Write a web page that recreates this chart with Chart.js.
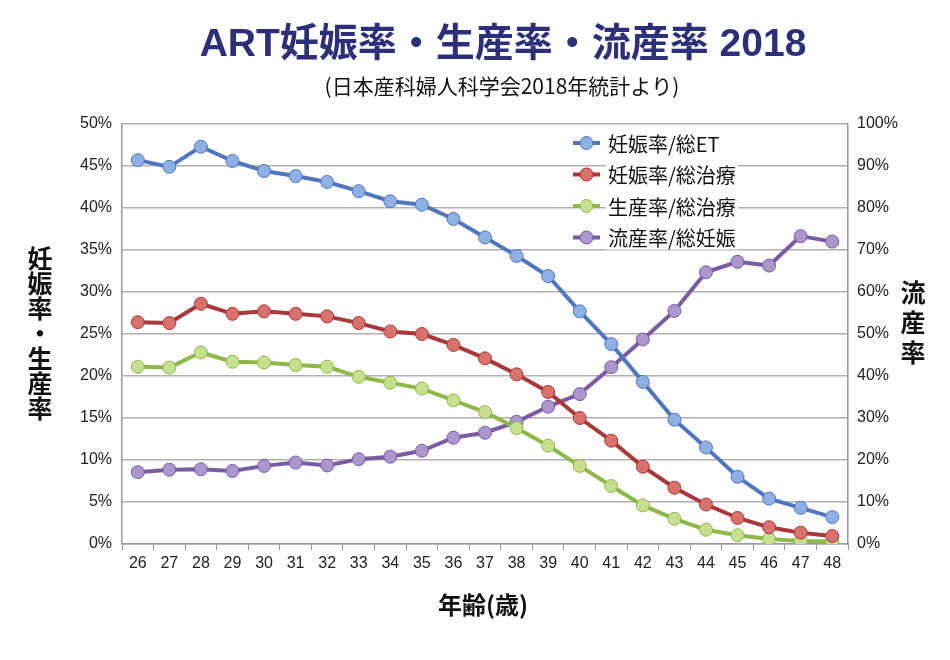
<!DOCTYPE html>
<html>
<head>
<meta charset="utf-8">
<script src="https://cdn.jsdelivr.net/npm/chart.js@4.4.0/dist/chart.umd.min.js"></script>
<style>
  html, body { margin: 0; padding: 0; background: #fff; }
  #wrap { width: 950px; height: 660px; position: relative; }
</style>
</head>
<body>
<div id="wrap"><canvas id="myChart"></canvas></div>
<script>
// データ (2018年 日本産科婦人科学会)
const ages = ['26','27','28','29','30','31','32','33','34','35','36','37','38','39','40','41','42','43','44','45','46','47','48'];
const pregPerET   = [45.7, 44.9, 47.3, 45.6, 44.4, 43.8, 43.1, 42.0, 40.8, 40.4, 38.7, 36.5, 34.3, 31.9, 27.7, 23.8, 19.3, 14.8, 11.5, 8.0, 5.4, 4.3, 3.2];
const pregPerCyc  = [26.4, 26.3, 28.6, 27.4, 27.7, 27.4, 27.1, 26.3, 25.3, 25.0, 23.7, 22.1, 20.2, 18.1, 15.0, 12.3, 9.2, 6.7, 4.7, 3.1, 2.0, 1.35, 0.95];
const birthPerCyc = [21.1, 21.0, 22.8, 21.7, 21.6, 21.3, 21.1, 19.9, 19.2, 18.5, 17.1, 15.7, 13.8, 11.7, 9.3, 6.9, 4.6, 3.0, 1.7, 1.05, 0.6, 0.35, 0.3];
const miscPerPreg = [17.1, 17.7, 17.8, 17.4, 18.6, 19.4, 18.7, 20.2, 20.8, 22.2, 25.3, 26.5, 29.1, 32.7, 35.7, 42.1, 48.7, 55.5, 64.7, 67.2, 66.3, 73.3, 72.0];
const seriesLabels = ['妊娠率/総ET', '妊娠率/総治療', '生産率/総治療', '流産率/総妊娠'];
const leftTicks = [0, 5, 10, 15, 20, 25, 30, 35, 40, 45, 50];
const rightTicks = [0, 10, 20, 30, 40, 50, 60, 70, 80, 90, 100];

const latin = '"Liberation Sans", "Noto Sans CJK JP", sans-serif';
const jp = '"Noto Sans CJK JP", "Liberation Sans", sans-serif';

function makeSet(label, data, line, fill, axis) {
    return {
        label: label,
        data: data,
        yAxisID: axis,
        borderColor: line,
        backgroundColor: fill,
        borderWidth: 4,
        pointRadius: 6.5,
        pointBackgroundColor: fill,
        pointBorderColor: line,
        pointBorderWidth: 1,
        tension: 0,
        fill: false
    };
}

// タイトル・軸タイトル・凡例を描く
const textPlugin = {
    id: 'texts',
    afterDraw(chart) {
        const ctx = chart.ctx;
        ctx.save();
        ctx.textBaseline = 'middle';
        ctx.textAlign = 'center';

        ctx.fillStyle = '#2d3079';
        ctx.font = 'bold 39px ' + latin;
        ctx.fillText('ART妊娠率・生産率・流産率 2018', 503, 45);

        ctx.fillStyle = '#111';
        ctx.font = '21px ' + jp;
        ctx.fillText('(日本産科婦人科学会2018年統計より)', 502, 86);

        ctx.font = 'bold 25px ' + jp;
        const left = '妊娠率・生産率';
        for (let i = 0; i < left.length; i++) {
            ctx.fillText(left[i], 40, 258 + i * 25);
        }
        const right = '流産率';
        for (let i = 0; i < right.length; i++) {
            ctx.fillText(right[i], 913, 292 + i * 30);
        }

        ctx.font = 'bold 24px ' + jp;
        ctx.fillText('年齢(歳)', 483, 605);

        // 凡例
        ctx.textAlign = 'left';
        ctx.font = '20px ' + jp;
        chart.data.datasets.forEach((ds, i) => {
            const y = 143 + i * 31.5;
            const w = ctx.measureText(ds.label).width;
            ctx.fillStyle = '#fff';
            ctx.fillRect(606, y - 12, w + 4, 24);
            ctx.strokeStyle = ds.borderColor;
            ctx.lineWidth = 4;
            ctx.beginPath();
            ctx.moveTo(573, y);
            ctx.lineTo(600, y);
            ctx.stroke();
            ctx.beginPath();
            ctx.arc(586.5, y, 6.5, 0, Math.PI * 2);
            ctx.fillStyle = ds.backgroundColor;
            ctx.fill();
            ctx.lineWidth = 1;
            ctx.stroke();
            ctx.fillStyle = '#111';
            ctx.fillText(ds.label, 608, y + 1);
        });
        ctx.restore();
    }
};

function createChart() {
    const ctx = document.getElementById('myChart').getContext('2d');
    new Chart(ctx, {
        type: 'line',
        data: {
            labels: ages,
            datasets: [
                makeSet(seriesLabels[0], pregPerET, '#5077bd', '#8fb0e3', 'y'),
                makeSet(seriesLabels[1], pregPerCyc, '#a8383a', '#d9716d', 'y'),
                makeSet(seriesLabels[2], birthPerCyc, '#8fb84a', '#c6e08f', 'y'),
                makeSet(seriesLabels[3], miscPerPreg, '#7b5ba1', '#ab97cd', 'y1')
            ]
        },
        options: {
            responsive: true,
            maintainAspectRatio: false,
            devicePixelRatio: 1,
            animation: false,
            layout: { padding: { top: 124, left: 0, right: 0, bottom: 0 } },
            plugins: {
                legend: { display: false },
                tooltip: { enabled: false }
            },
            scales: {
                x: {
                    offset: true,
                    grid: { drawOnChartArea: false, drawTicks: true, tickLength: 6, color: '#999', offset: true },
                    border: { color: '#999', width: 1.5 },
                    ticks: { color: '#222', font: { family: latin, size: 16 }, padding: 4, maxRotation: 0 },
                    afterFit: s => { s.height = 116; }
                },
                y: {
                    position: 'left',
                    min: 0,
                    max: 50,
                    afterBuildTicks: s => { s.ticks = leftTicks.map(v => ({ value: v })); },
                    ticks: { color: '#222', font: { family: latin, size: 16 }, padding: 10, callback: v => v + '%' },
                    grid: { color: '#b0b0b0', lineWidth: 1.5, drawTicks: false },
                    border: { color: '#999', width: 1.5 },
                    afterFit: s => { s.width = 122; }
                },
                y1: {
                    position: 'right',
                    min: 0,
                    max: 100,
                    afterBuildTicks: s => { s.ticks = rightTicks.map(v => ({ value: v })); },
                    ticks: { color: '#222', font: { family: latin, size: 16 }, padding: 9, callback: v => v + '%' },
                    grid: { drawOnChartArea: false, drawTicks: false },
                    border: { color: '#999', width: 1.5 },
                    afterFit: s => { s.width = 102; }
                }
            }
        },
        plugins: [textPlugin]
    });
}

document.addEventListener('DOMContentLoaded', createChart);
</script>
</body>
</html>
